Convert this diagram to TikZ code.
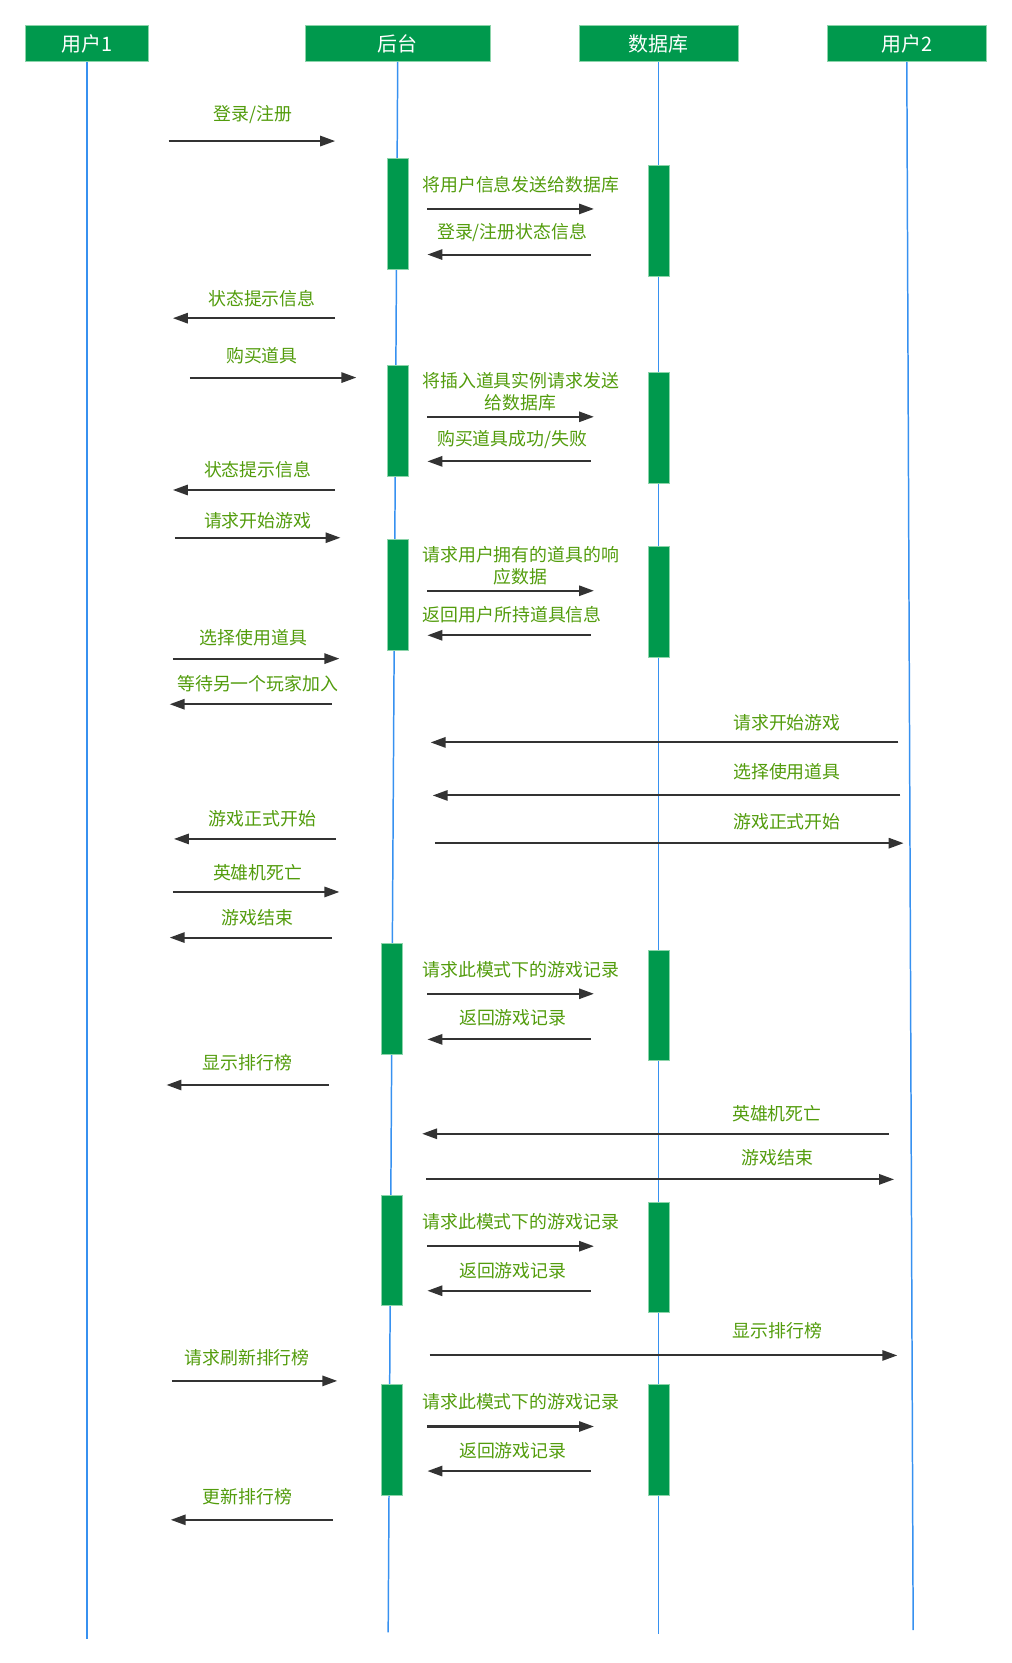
\documentclass[tikz,border=0pt]{standalone}
\usepackage{fontspec}
\newfontfamily\cjk{Noto Sans CJK SC}
\usepackage{xcolor}
\usetikzlibrary{arrows.meta}

\definecolor{hdgreen}{RGB}{0,153,77}
\definecolor{barline}{RGB}{140,212,170}
\definecolor{txtgreen}{RGB}{82,156,12}
\definecolor{lifeblue}{RGB}{55,145,240}
\definecolor{arrowgray}{RGB}{51,51,51}

\begin{document}
\begin{tikzpicture}[
    x=0.02cm, y=-0.02cm,
    head/.style={rectangle, draw=barline, line width=0.4pt, fill=hdgreen, text=white, minimum height=0.68cm, inner sep=0pt, font=\cjk\fontsize{10.7}{12}\selectfont},
    actbar/.style={rectangle, draw=barline, line width=0.4pt, fill=hdgreen, minimum width=0.4cm, minimum height=2.09cm, inner sep=0pt},
    life/.style={draw=lifeblue, line width=0.8pt},
    msg/.style={draw=arrowgray, line width=1.1pt, -{Triangle[length=8pt, width=5.5pt]}},
    lbl/.style={text=txtgreen, align=center, inner sep=0pt, font=\cjk\fontsize{9.6}{11.9}\selectfont}
]
\useasboundingbox (0,0) rectangle (954,1568);

% Lifeline heads
\node[head, minimum width=2.32cm] (u1) at (82,41) {用户1};
\node[head, minimum width=3.48cm] (bk) at (375,41) {后台};
\node[head, minimum width=3.0cm] (db) at (621,41) {数据库};
\node[head, minimum width=3.0cm] (u2) at (855,41) {用户2};

% Lifelines
\coordinate (u1end) at (82,1545);
\coordinate (bkend) at (366,1539);
\coordinate (dbend) at (621,1541);
\coordinate (u2end) at (861,1537);
\foreach \l in {u1, bk, db, u2}
    \draw[life] (\l.south) -- (\l end);

% Activation bars
\node[actbar] (bkA) at (375,202) {};
\node[actbar] (bkB) at (375,397) {};
\node[actbar] (bkC) at (375,561) {};
\node[actbar] (bkD) at (369.5,941.5) {};
\node[actbar] (bkE) at (369.5,1179) {};
\node[actbar] (bkF) at (369.5,1357.5) {};
\node[actbar] (dbA) at (621,208) {};
\node[actbar] (dbB) at (621,403.5) {};
\node[actbar] (dbC) at (621,567.5) {};
\node[actbar] (dbD) at (621,948) {};
\node[actbar] (dbE) at (621,1185.5) {};
\node[actbar] (dbF) at (621,1357.5) {};

% Messages
\foreach \i/\xa/\xb/\y in {1/159/316/133, 2/403/560/197, 3/557/403/240, 4/316/163/300,
    5/179/336/356, 6/403/560/393, 7/557/403/435, 8/316/163/462, 9/165/321/507,
    10/403/560/557, 11/557/403/599, 12/163/320/621, 13/313/160/664, 14/847/406/700,
    15/849/408/750, 16/317/164/791, 17/410/852/795, 18/163/320/841, 19/313/160/884,
    20/403/560/937, 21/557/403/980, 22/310/157/1023, 23/838/398/1069, 24/402/843/1112,
    25/403/560/1175, 26/557/403/1217, 27/405/846/1278, 28/162/318/1302,
    29/403/560/1345, 30/557/403/1387, 31/314/161/1433} {
    \coordinate (s\i) at (\xa,\y);
    \coordinate (e\i) at (\xb,\y);
    \draw[msg] (s\i) -- (e\i);
}

% Message labels
\node[lbl] (t1) at (238.5,108) {登录/注册};
\node[lbl] (t2) at (491,174) {将用户信息发送给数据库};
\node[lbl] (t3) at (483,219) {登录/注册状态信息};
\node[lbl] (t4) at (247,282) {状态提示信息};
\node[lbl] (t5) at (247,335) {购买道具};
\node[lbl] (t6) at (491,369.5) {将插入道具实例请求发送\\给数据库};
\node[lbl] (t7) at (483,414) {购买道具成功/失败};
\node[lbl] (t8) at (243,443) {状态提示信息};
\node[lbl] (t9) at (243,491) {请求开始游戏};
\node[lbl] (t10) at (491,533.5) {请求用户拥有的道具的响\\应数据};
\node[lbl] (t11) at (483,580) {返回用户所持道具信息};
\node[lbl] (t12) at (239,601) {选择使用道具};
\node[lbl] (t13) at (243,645) {等待另一个玩家加入};
\node[lbl] (t14) at (742,681) {请求开始游戏};
\node[lbl] (t15) at (742,728) {选择使用道具};
\node[lbl] (t16) at (247.5,772) {游戏正式开始};
\node[lbl] (t17) at (742,775) {游戏正式开始};
\node[lbl] (t18) at (243,823) {英雄机死亡};
\node[lbl] (t19) at (243,865) {游戏结束};
\node[lbl] (t20) at (491,914) {请求此模式下的游戏记录};
\node[lbl] (t21) at (483.5,960) {返回游戏记录};
\node[lbl] (t22) at (233.5,1002) {显示排行榜};
\node[lbl] (t23) at (732.5,1050) {英雄机死亡};
\node[lbl] (t24) at (733,1092) {游戏结束};
\node[lbl] (t25) at (491,1152) {请求此模式下的游戏记录};
\node[lbl] (t26) at (483.5,1198) {返回游戏记录};
\node[lbl] (t27) at (733,1255) {显示排行榜};
\node[lbl] (t28) at (233,1280) {请求刷新排行榜};
\node[lbl] (t29) at (491,1322) {请求此模式下的游戏记录};
\node[lbl] (t30) at (483.5,1368) {返回游戏记录};
\node[lbl] (t31) at (233.5,1411) {更新排行榜};

\end{tikzpicture}
\end{document}
